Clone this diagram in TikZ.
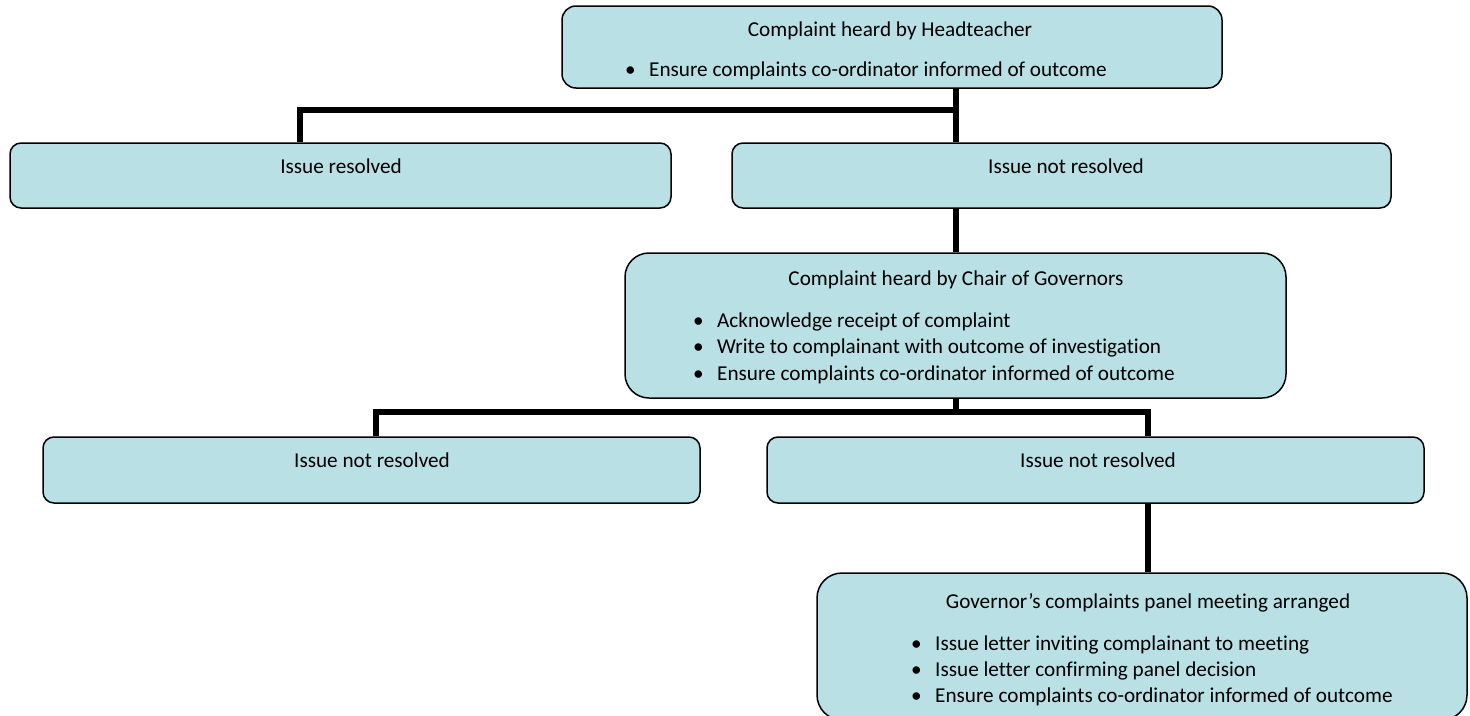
\documentclass[tikz,border=0pt]{standalone}
\usepackage{fontspec}
\setmainfont[Ligatures=NoCommon]{Carlito}
\definecolor{boxblue}{HTML}{B9E0E4}
\newcommand{\bul}{\makebox[24pt][l]{\textbullet}}
\tikzset{
	box/.style={draw=black, line width=1.5pt, fill=boxblue, inner sep=0pt},
	txt/.style={inner sep=0pt, font=\fontsize{21.2}{26}\selectfont},
	link/.style={line width=6pt, line join=miter},
}
\begin{document}
\begin{tikzpicture}[x=1pt,y=-1pt]
	\useasboundingbox (0,0) rectangle (1470,715);
	\clip (0,0) rectangle (1470,715);
	% boxes
	\node[box, rounded corners=14pt, minimum width=660pt, minimum height=82pt] (head) at (892,47) {};
	\node[box, rounded corners=11pt, minimum width=661pt, minimum height=65pt] (res) at (340.5,175.5) {};
	\node[box, rounded corners=11pt, minimum width=659pt, minimum height=65pt] (notA) at (1061.5,175.5) {};
	\node[box, rounded corners=24pt, minimum width=661pt, minimum height=145pt] (chair) at (955.5,325.5) {};
	\node[box, rounded corners=11pt, minimum width=657pt, minimum height=66pt] (notB) at (371.5,470) {};
	\node[box, rounded corners=11pt, minimum width=657pt, minimum height=66pt] (notC) at (1095.5,470) {};
	\node[box, rounded corners=25pt, minimum width=650pt, minimum height=147pt] (panel) at (1142,646.5) {};
	% texts
	\node[txt, anchor=base] (headT) at (890,36) {Complaint heard by Headteacher};
	\node[txt, anchor=base west] (headL1) at (625,76) {\bul Ensure complaints co-ordinator informed of outcome};
	\node[txt, anchor=base] (resT) at (341,173) {Issue resolved};
	\node[txt, anchor=base] (notAT) at (1066,173) {Issue not resolved};
	\node[txt, anchor=base] (chairT) at (956,285) {Complaint heard by Chair of Governors};
	\node[txt, anchor=base west] (chairL1) at (693,327) {\bul Acknowledge receipt of complaint};
	\node[txt, anchor=base west] (chairL2) at (693,353) {\bul Write to complainant with outcome of investigation};
	\node[txt, anchor=base west] (chairL3) at (693,380) {\bul Ensure complaints co-ordinator informed of outcome};
	\node[txt, anchor=base] (notBT) at (372,467) {Issue not resolved};
	\node[txt, anchor=base] (notCT) at (1098,467) {Issue not resolved};
	\node[txt, anchor=base] (panelT) at (1148,608) {Governor’s complaints panel meeting arranged};
	\node[txt, anchor=base west] (panelL1) at (911,650) {\bul Issue letter inviting complainant to meeting};
	\node[txt, anchor=base west] (panelL2) at (911,676) {\bul Issue letter confirming panel decision};
	\node[txt, anchor=base west] (panelL3) at (911,702) {\bul Ensure complaints co-ordinator informed of outcome};
	% connectors
	\coordinate (j1) at (956,110);
	\coordinate (d1) at (300,110);
	\coordinate (j2) at (956,412);
	\coordinate (d2) at (376,412);
	\coordinate (d3) at (1148,412);
	\draw[link] (head.south -| j1) -- (notA.north -| j1);
	\draw[link] (j1) -- (d1) -- (d1 |- res.north);
	\draw[link] (notA.south -| j1) -- (chair.north -| j1);
	\draw[link] (chair.south -| j2) -- (j2);
	\draw[link] (d2 |- notB.north) -- (d2) -- (d3) -- (d3 |- notC.north);
	\draw[link] (d3 |- notC.south) -- (d3 |- panel.north);
\end{tikzpicture}
\end{document}
